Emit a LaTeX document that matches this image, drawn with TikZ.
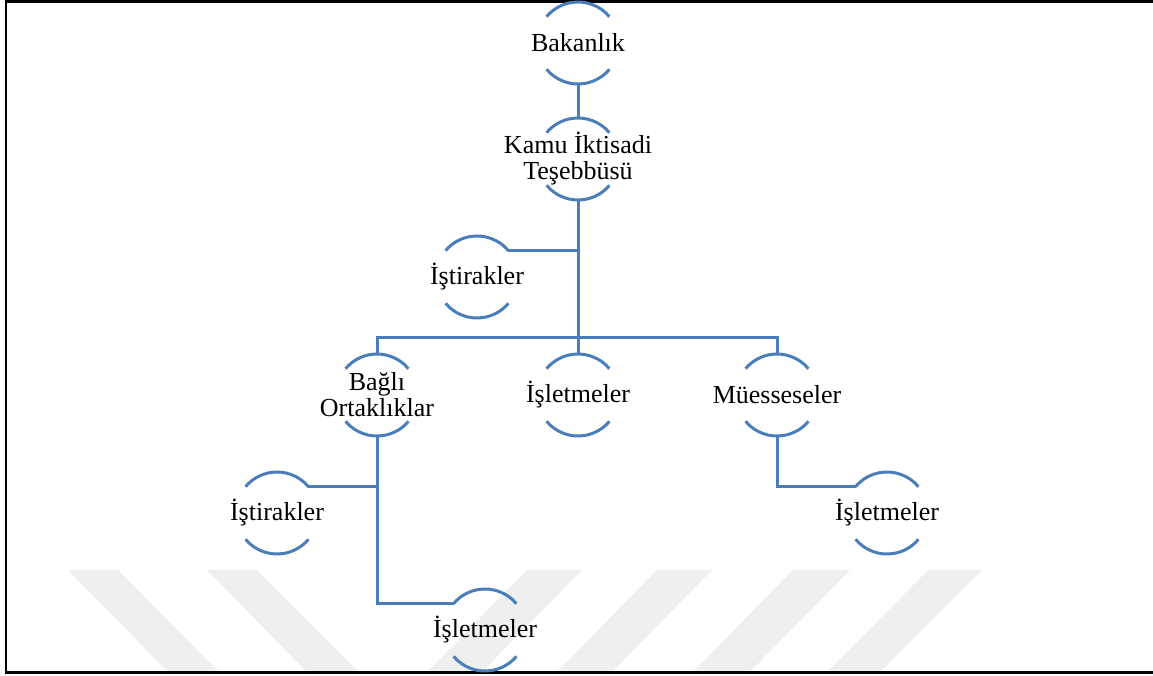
\documentclass[tikz,border=0pt]{standalone}
\usepackage{fontspec}
\setmainfont{Liberation Serif}
\definecolor{orgblue}{RGB}{74,126,187}
\definecolor{wmark}{RGB}{239,239,239}
\tikzset{
  hnode/.style={circle, minimum size=82pt, inner sep=0pt, outer sep=0pt, draw=none},
  lbl/.style={font=\fontsize{26}{26}\selectfont, align=center, inner sep=0pt},
  arcline/.style={draw=orgblue, line width=3pt},
  conn/.style={draw=orgblue, line width=3pt},
  stripe/.style={fill=wmark, draw=none},
  frameline/.style={draw=black, line width=2.8pt}
}
\newcommand{\halfarcs}[1]{%
  \draw[arcline] (#1.40) arc[start angle=40, end angle=140, radius=41pt];
  \draw[arcline] (#1.220) arc[start angle=220, end angle=320, radius=41pt];
}
\begin{document}
\begin{tikzpicture}[x=1pt, y=-1pt]
\useasboundingbox (0,0) rectangle (1153,675);
% watermark stripes
\fill[stripe] (68,570) -- (118,570) -- (219,672) -- (168,672) -- cycle;
\fill[stripe] (207,570) -- (257,570) -- (359,672) -- (307,672) -- cycle;
\fill[stripe] (527,570) -- (582,570) -- (482,672) -- (427,672) -- cycle;
\fill[stripe] (657,570) -- (712,570) -- (612,672) -- (557,672) -- cycle;
\fill[stripe] (793,570) -- (850,570) -- (750,672) -- (693,672) -- cycle;
\fill[stripe] (928,570) -- (982,570) -- (880,672) -- (827,672) -- cycle;
% frame
\draw[frameline] (1153,1.3) -- (6,1.3) -- (6,672.5) -- (1153,672.5);
% nodes
\node[hnode, label={[lbl]center:Bakanlık}] (bak) at (578,43) {};
\node[hnode, label={[lbl]center:Kamu İktisadi\\Teşebbüsü}] (kamu) at (578,159) {};
\node[hnode, label={[lbl]center:İştirakler}] (ist1) at (477,277) {};
\node[hnode, label={[lbl]center:Bağlı\\Ortaklıklar}] (bagli) at (377,395) {};
\node[hnode, label={[lbl]center:İşletmeler}] (isl1) at (578,395) {};
\node[hnode, label={[lbl]center:Müesseseler}] (mues) at (777,395) {};
\node[hnode, label={[lbl]center:İştirakler}] (ist2) at (277,513) {};
\node[hnode, label={[lbl]center:İşletmeler}] (isl2) at (485,630) {};
\node[hnode, label={[lbl]center:İşletmeler}] (isl3) at (887,513) {};
\halfarcs{bak}
\halfarcs{kamu}
\halfarcs{ist1}
\halfarcs{bagli}
\halfarcs{isl1}
\halfarcs{mues}
\halfarcs{ist2}
\halfarcs{isl2}
\halfarcs{isl3}
% connectors
\coordinate (bus) at (578,337);
\draw[conn] (bak.south) -- (kamu.north);
\draw[conn] (kamu.south) -- (isl1.north);
\draw[conn] (ist1.40) -- (ist1.40 -| kamu.south);
\draw[conn] (bagli.north) |- (bus) -| (mues.north);
\draw[conn] (bagli.south) |- (isl2.140);
\draw[conn] (ist2.40) -- (ist2.40 -| bagli.south);
\draw[conn] (mues.south) |- (isl3.140);
\end{tikzpicture}
\end{document}
